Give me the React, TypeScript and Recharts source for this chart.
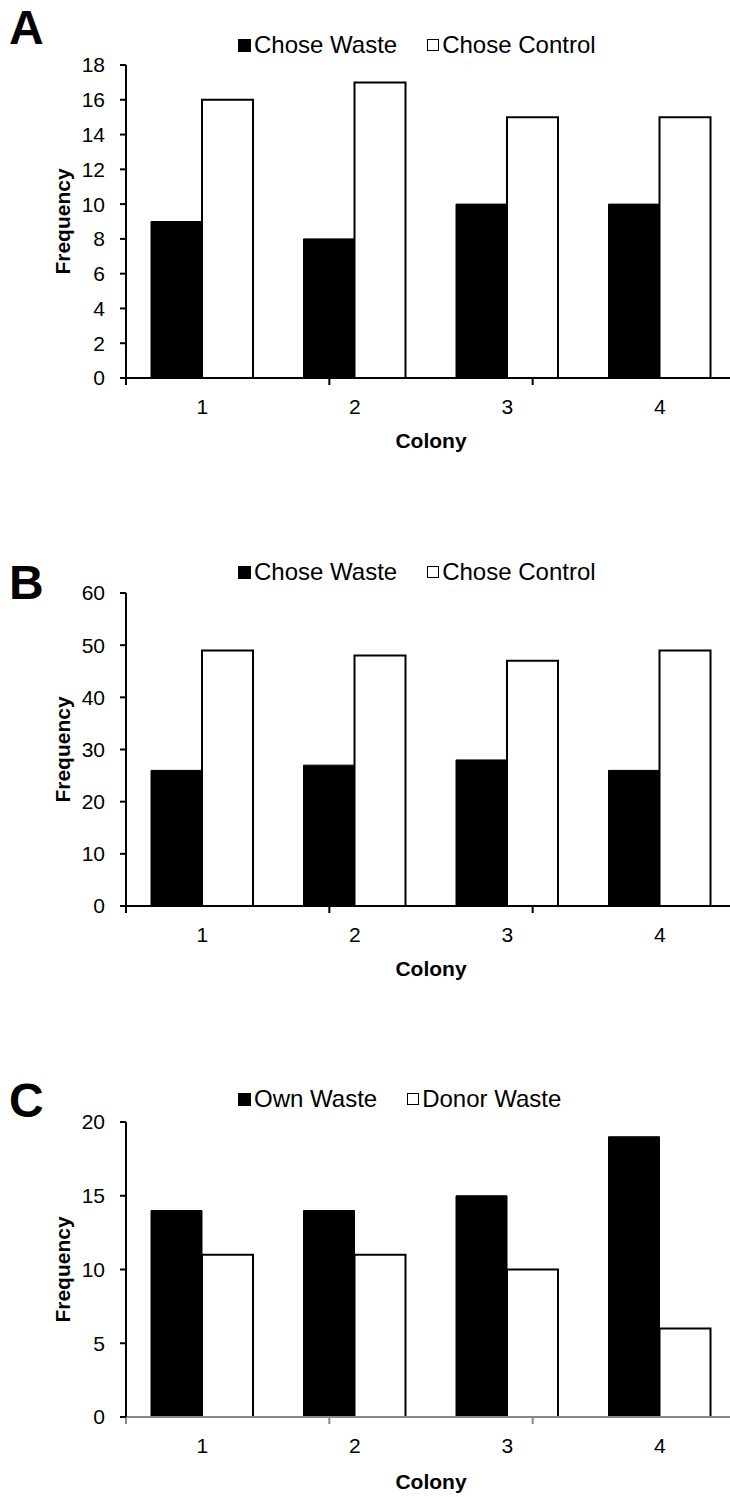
import { Bar, BarChart, XAxis, YAxis } from 'recharts';

const colonies = ['1', '2', '3', '4'];
const choseWasteA = [9, 8, 10, 10];
const choseControlA = [16, 17, 15, 15];
const choseWasteB = [26, 27, 28, 26];
const choseControlB = [49, 48, 47, 49];
const ownWasteC = [14, 14, 15, 19];
const donorWasteC = [11, 11, 10, 6];
const ticksA = [0, 2, 4, 6, 8, 10, 12, 14, 16, 18];
const ticksB = [0, 10, 20, 30, 40, 50, 60];
const ticksC = [0, 5, 10, 15, 20];
const legendAB = ['Chose Waste', 'Chose Control'];
const legendC = ['Own Waste', 'Donor Waste'];
const edgeTicks = [0, 1, 2, 3, 4];

const FONT = '"Liberation Sans", Arial, sans-serif';
const CHART_W = 736;
const Y_AXIS_W = 126;
const TOP_PAD = 12;

type PanelProps = {
  letter: string;
  letterTop: number;
  legendTop: number;
  legend: string[];
  first: number[];
  second: number[];
  ticks: number[];
  plotTop: number;
  plotHeight: number;
  xAxisColor: string;
  colonyOffset: number;
};

const Panel = ({
  letter,
  letterTop,
  legendTop,
  legend,
  first,
  second,
  ticks,
  plotTop,
  plotHeight,
  xAxisColor,
  colonyOffset,
}: PanelProps) => {
  const data = colonies.map((c, i) => ({ colony: c, first: first[i], second: second[i] }));
  const max = ticks[ticks.length - 1];

  return (
    <>
      <div
        style={{
          position: 'absolute',
          left: 9,
          top: letterTop - 6,
          fontFamily: FONT,
          fontWeight: 'bold',
          fontSize: 48,
          lineHeight: '48px',
        }}
      >
        {letter}
      </div>

      {/* legend */}
      <div
        style={{
          position: 'absolute',
          left: 238,
          top: legendTop,
          display: 'flex',
          alignItems: 'center',
          fontFamily: FONT,
          fontSize: 24,
          lineHeight: '24px',
          whiteSpace: 'nowrap',
        }}
      >
        <span style={{ width: 13, height: 13, background: '#000', display: 'inline-block' }} />
        <span style={{ marginLeft: 3 }}>{legend[0]}</span>
        <span
          style={{
            width: 10,
            height: 10,
            border: '1.5px solid #000',
            background: '#fff',
            display: 'inline-block',
            marginLeft: 30,
          }}
        />
        <span style={{ marginLeft: 3 }}>{legend[1]}</span>
      </div>

      <div style={{ position: 'absolute', left: 0, top: plotTop - TOP_PAD }}>
        <BarChart
          width={CHART_W}
          height={TOP_PAD + plotHeight + 90}
          data={data}
          margin={{ top: TOP_PAD, right: 0, left: 0, bottom: 0 }}
          barGap={0}
          barSize={51}
        >
          <XAxis
            xAxisId="b"
            dataKey="colony"
            axisLine={false}
            tickLine={false}
            tickSize={0}
            tickMargin={20}
            height={89}
            tick={{ fill: '#000', fontSize: 21, fontFamily: FONT }}
            label={{
              content: ({ viewBox }: any) => (
                <text
                  x={viewBox.x + viewBox.width / 2}
                  y={viewBox.y + colonyOffset - 1}
                  textAnchor="middle"
                  fontFamily={FONT}
                  fontWeight="bold"
                  fontSize={21}
                  fill="#000"
                >
                  Colony
                </text>
              ),
            }}
          />
          {/* boundary ticks + axis line */}
          <XAxis
            xAxisId="a"
            type="number"
            domain={[0, 4]}
            ticks={edgeTicks}
            interval={0}
            allowDataOverflow
            tickFormatter={() => ''}
            tickLine={{ stroke: xAxisColor, strokeWidth: 2 }}
            tickSize={7}
            height={1}
            axisLine={{ stroke: xAxisColor, strokeWidth: 2 }}
          />
          <YAxis
            domain={[0, max]}
            ticks={ticks}
            interval={0}
            width={Y_AXIS_W}
            tickSize={6}
            tickMargin={15}
            stroke="#000"
            strokeWidth={2}
            tick={{ fill: '#000', fontSize: 21, fontFamily: FONT }}
            label={{
              content: ({ viewBox }: any) => {
                const cx = 62;
                const cy = viewBox.y + viewBox.height / 2;
                return (
                  <text
                    x={cx}
                    y={cy}
                    transform={`rotate(-90 ${cx} ${cy})`}
                    textAnchor="middle"
                    dominantBaseline="central"
                    fontFamily={FONT}
                    fontWeight="bold"
                    fontSize={21}
                    fill="#000"
                  >
                    Frequency
                  </text>
                );
              },
            }}
          />
          <Bar xAxisId="b" dataKey="first" fill="#000" stroke="#000" strokeWidth={1} isAnimationActive={false} />
          <Bar xAxisId="b" dataKey="second" fill="#fff" stroke="#000" strokeWidth={2} isAnimationActive={false} />
        </BarChart>
      </div>
    </>
  );
};

export default function App() {
  return (
    <div
      style={{
        position: 'absolute',
        left: 0,
        top: 0,
        width: 730,
        height: 1497,
        overflow: 'hidden',
        background: '#fff',
      }}
    >
      <Panel
        letter="A"
        letterTop={10}
        legendTop={33}
        legend={legendAB}
        first={choseWasteA}
        second={choseControlA}
        ticks={ticksA}
        plotTop={65}
        plotHeight={313}
        xAxisColor="#000"
        colonyOffset={70}
      />
      <Panel
        letter="B"
        letterTop={565}
        legendTop={560}
        legend={legendAB}
        first={choseWasteB}
        second={choseControlB}
        ticks={ticksB}
        plotTop={593}
        plotHeight={313}
        xAxisColor="#000"
        colonyOffset={70}
      />
      <Panel
        letter="C"
        letterTop={1083}
        legendTop={1087}
        legend={legendC}
        first={ownWasteC}
        second={donorWasteC}
        ticks={ticksC}
        plotTop={1122}
        plotHeight={295}
        xAxisColor="#888"
        colonyOffset={72}
      />
    </div>
  );
}
